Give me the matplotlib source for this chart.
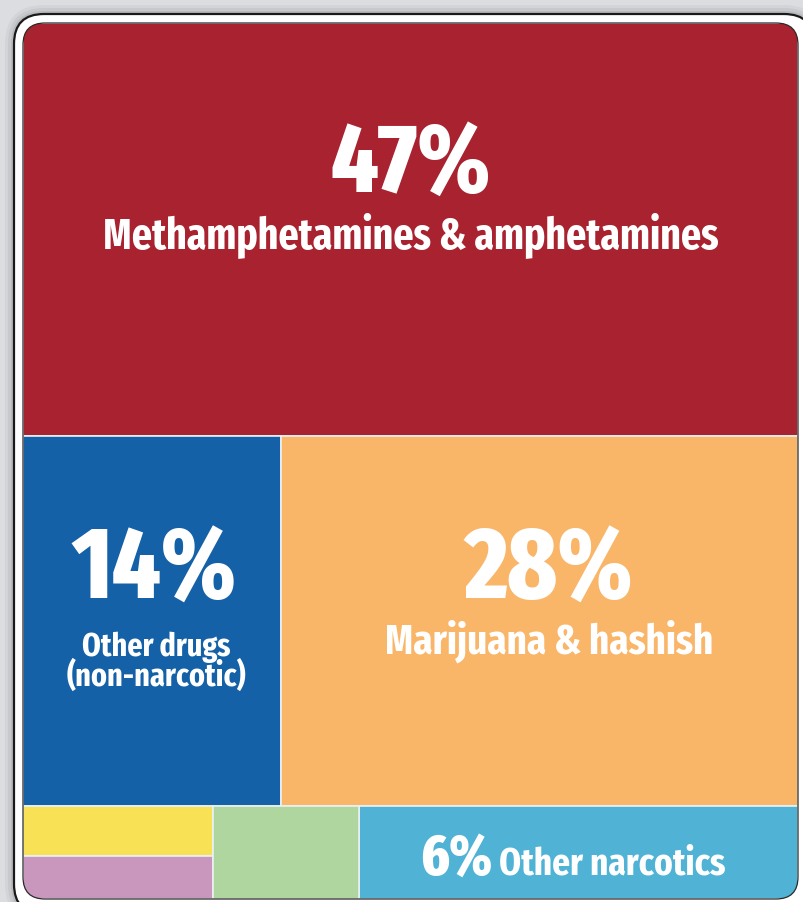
import matplotlib.pyplot as plt
from matplotlib.patches import FancyBboxPatch, Rectangle

# share of drug arrests by type (percent)
names = ["Methamphetamines & amphetamines", "Other drugs\n(non-narcotic)",
         "Marijuana & hashish", "Other narcotics", "", "", ""]
shares = [47, 14, 28, 6, 1.4, 1.2, 2.0]
fills = ["#a8222f", "#1461a7", "#f9b568", "#50b3d6", "#f9e155", "#c996be", "#aed69e"]

W_PX, H_PX = 804, 903
X0, X1, Y0, Y1 = 23, 798, 24, 900
FONT = "Fira Sans Extra Condensed"

fig = plt.figure(figsize=(W_PX / 100, H_PX / 100), dpi=100)
fig.patch.set_facecolor("#dcdde0")
ax = fig.add_axes([0, 0, 1, 1])
ax.set_xlim(0, W_PX)
ax.set_ylim(H_PX, 0)
ax.axis("off")

# soft shadow + outer frame
for k, a in [(9, 0.04), (6, 0.05), (3, 0.07)]:
    ax.add_patch(FancyBboxPatch((14 - k, 15 - k), 800 + 2 * k, 900 + 2 * k,
                                boxstyle="round,pad=0,rounding_size=%d" % (30 + k),
                                fc="black", ec="none", alpha=a))
ax.add_patch(FancyBboxPatch((14, 15), 800, 900, boxstyle="round,pad=0,rounding_size=30",
                            fc="white", ec="#1a1a1a", lw=1.6))
clip = FancyBboxPatch((X0, Y0), X1 - X0, Y1 - Y0, boxstyle="round,pad=0,rounding_size=22",
                      fc="none", ec="#2a2a2a", lw=0.9, zorder=5)
ax.add_patch(clip)

# treemap layout: top row, middle row (2 boxes), bottom row (stacked column + 2 boxes)
total = sum(shares)
W, H = X1 - X0, Y1 - Y0
h_top = H * shares[0] / total
h_mid = H * (shares[1] + shares[2]) / total
h_bot = H - h_top - h_mid
rects = [None] * len(shares)
rects[0] = (X0, Y0, W, h_top)
y = Y0 + h_top
w_left = W * shares[1] / (shares[1] + shares[2])
rects[1] = (X0, y, w_left, h_mid)
rects[2] = (X0 + w_left, y, W - w_left, h_mid)
y += h_mid
bot = shares[3] + shares[4] + shares[5] + shares[6]
w_col = W * (shares[4] + shares[5]) / bot
w_green = W * shares[6] / bot
h_yel = h_bot * shares[4] / (shares[4] + shares[5])
rects[4] = (X0, y, w_col, h_yel)
rects[5] = (X0, y + h_yel, w_col, h_bot - h_yel)
rects[6] = (X0 + w_col, y, w_green, h_bot)
rects[3] = (X0 + w_col + w_green, y, W - w_col - w_green, h_bot)

for (x, y, w, h), c in zip(rects, fills):
    r = Rectangle((x, y), w, h, fc=c, ec="#e9f1f4", lw=1.2, zorder=2)
    ax.add_patch(r)
    r.set_clip_path(clip)

txt = dict(color="white", family=FONT, weight="bold", ha="center", va="baseline", zorder=6)
big = dict(txt, weight=800)

# big box at top
x, y, w, h = rects[0]
ax.text(x + w / 2, y + 168, f"{shares[0]}%", fontsize=71, **big)
ax.text(x + w / 2, y + 224, names[0], fontsize=31, **txt)

# middle row, anchored to bottom edge
x, y, w, h = rects[1]
ax.text(x + w / 2 + 2, y + h - 208, f"{shares[1]}%", fontsize=73, **big)
for i, line in enumerate(names[1].split("\n")):
    ax.text(x + w / 2 + 4, y + h - 151 + 30 * i, line, fontsize=23.5, **txt)
x, y, w, h = rects[2]
ax.text(x + w / 2 + 9, y + h - 208, f"{shares[2]}%", fontsize=73, **big)
ax.text(x + w / 2 + 9, y + h - 153, names[2], fontsize=30.5, **txt)

# bottom-right box: percent and name on one line, centred together
x, y, w, h = rects[3]
base = y + h - 25
t1 = ax.text(0, base, f"{shares[3]}%", fontsize=42, **big)
t2 = ax.text(0, base, names[3], fontsize=27.5, **txt)
fig.canvas.draw()
r = fig.canvas.get_renderer()
w1 = t1.get_window_extent(r).width
w2 = t2.get_window_extent(r).width
gap = 6
start = x + w / 2 - (w1 + gap + w2) / 2 - 6
t1.set_x(start + w1 / 2)
t2.set_x(start + w1 + gap + w2 / 2)

fig.savefig("out.png", dpi=100, facecolor=fig.get_facecolor())
